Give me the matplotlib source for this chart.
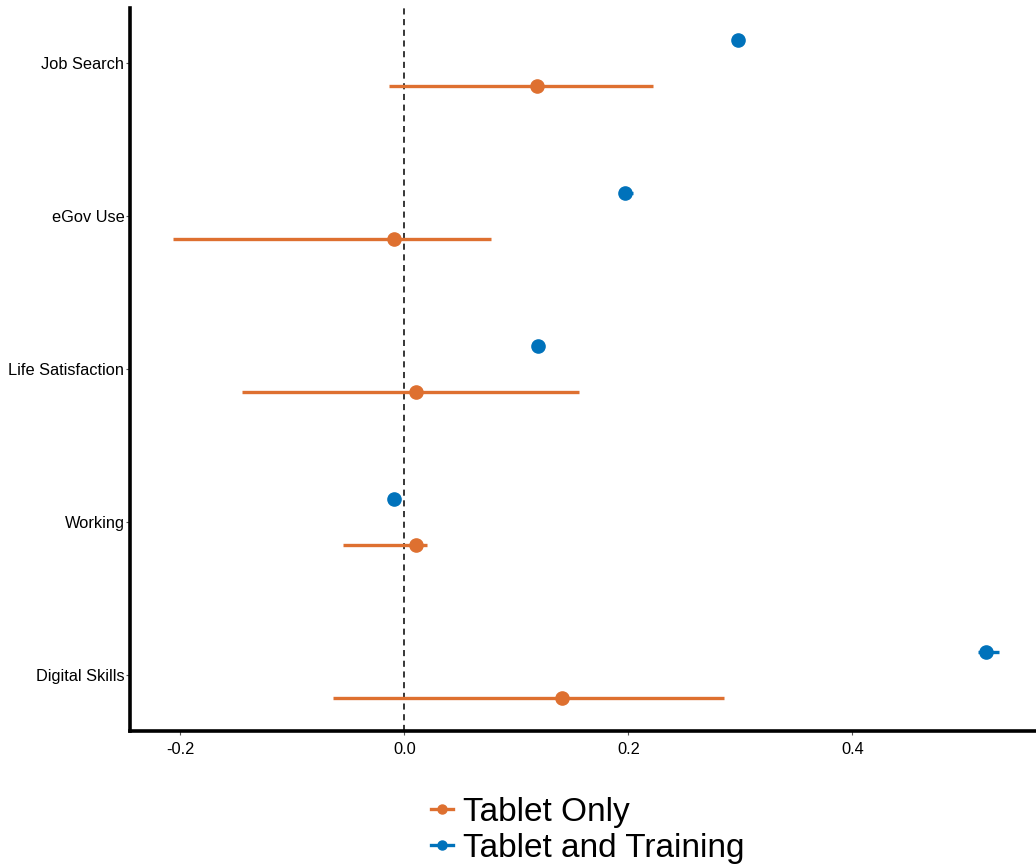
import matplotlib
matplotlib.use("Agg")
import matplotlib.pyplot as plt
from matplotlib.lines import Line2D
import numpy as np

plt.rcParams['font.family'] = ['Liberation Sans', 'DejaVu Sans']

outcomes = ["Digital Skills", "Working", "Life Satisfaction", "eGov Use", "Job Search"]

# Tablet Only: estimate and confidence interval
tablet_est = [0.141, 0.010, 0.010, -0.009, 0.118]
tablet_lo = [-0.064, -0.055, -0.145, -0.207, -0.014]
tablet_hi = [0.285, 0.020, 0.156, 0.077, 0.222]

# Tablet and Training: estimate and confidence interval
training_est = [0.519, -0.009, 0.119, 0.197, 0.298]
training_lo = [0.512, -0.011, 0.117, 0.194, 0.296]
training_hi = [0.531, -0.007, 0.121, 0.204, 0.300]

x_ticks = [-0.2, 0.0, 0.2, 0.4]
x_tick_labels = ["-0.2", "0.0", "0.2", "0.4"]

orange = "#DE7030"
blue = "#0072BB"

fig = plt.figure(figsize=(10.36, 8.64), dpi=100)
ax = fig.add_axes([130 / 1036, 133 / 864, 906 / 1036, 723 / 864])

y = np.arange(len(outcomes))
dodge = 0.15

ax.axvline(0, color="black", lw=1.1, ls=(0, (4, 3)), zorder=1)

for est, lo, hi, col, off in [
    (tablet_est, tablet_lo, tablet_hi, orange, -dodge),
    (training_est, training_lo, training_hi, blue, dodge),
]:
    est = np.array(est)
    ax.hlines(y + off, lo, hi, color=col, lw=2.4, zorder=2)
    ax.plot(est, y + off, "o", color=col, ms=9.5, zorder=3)

ax.set_yticks(y)
ax.set_yticklabels(outcomes, fontsize=11.8)
ax.set_xticks(x_ticks)
ax.set_xticklabels(x_tick_labels, fontsize=11.8)
ax.set_xlim(-0.245, 0.564)
ax.set_ylim(-0.366, 4.36)

for s in ["top", "right"]:
    ax.spines[s].set_visible(False)
for s in ["left", "bottom"]:
    ax.spines[s].set_linewidth(2.6)
    ax.spines[s].set_color("black")
ax.tick_params(axis="both", length=3, width=0.8, color="#555555", labelcolor="black")
ax.tick_params(axis="y", pad=1)
ax.tick_params(axis="x", pad=5)

handles = [
    Line2D([0], [0], color=orange, lw=2.4, marker="o", ms=6.5),
    Line2D([0], [0], color=blue, lw=2.4, marker="o", ms=6.5),
]
fig.legend(handles, ["Tablet Only", "Tablet and Training"], loc="center",
           bbox_to_anchor=(588 / 1036, 34 / 864), frameon=False, fontsize=24,
           handlelength=0.65, handletextpad=0.3, labelspacing=0.15,
           borderaxespad=0.0, borderpad=0.0)

fig.savefig("out.png", dpi=100)
